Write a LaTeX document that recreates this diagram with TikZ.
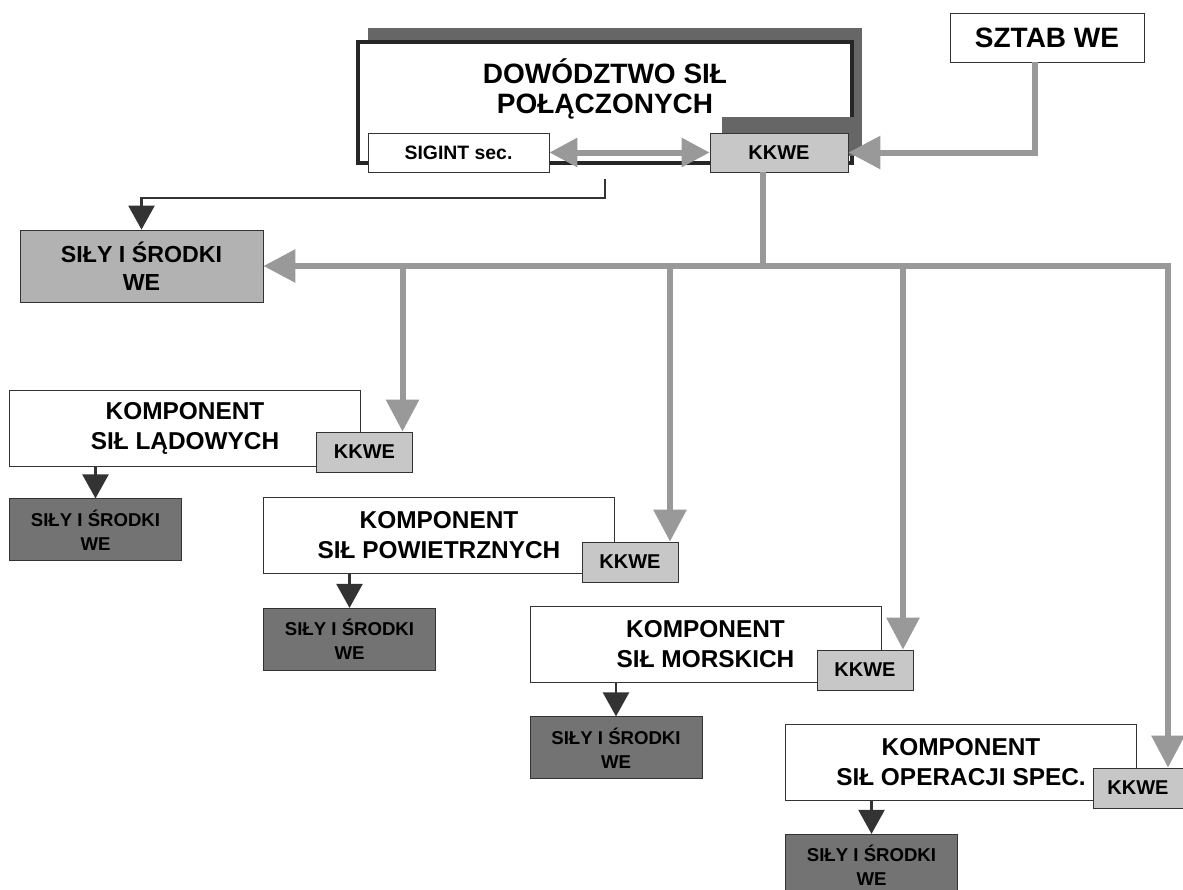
\documentclass[tikz,border=0pt]{standalone}
\usepackage{fontspec}
\setmainfont{Liberation Sans}
\usepackage{tikz}
\usetikzlibrary{arrows.meta, positioning, shadows}

\begin{document}
\begin{tikzpicture}[
  x=0.5pt, y=-0.5pt,
  box/.style={draw=black!80, fill=white, inner sep=1pt, align=center, font=\bfseries},
  hqframe/.style={draw=black!85, fill=white, line width=2pt, minimum width=247pt, minimum height=60.5pt,
    general shadow={fill=black!60, shadow xshift=5pt, shadow yshift=7pt}},
  kkwe/.style={box, fill=black!22, minimum width=48pt, minimum height=20pt, font=\bfseries\fontsize{10}{12}\selectfont},
  comp/.style={box, minimum width=175.5pt, minimum height=38pt, font=\bfseries\fontsize{12.2}{15}\selectfont},
  forces/.style={box, fill=black!55, minimum width=86pt, minimum height=31pt, font=\bfseries\fontsize{9.3}{12}\selectfont},
  grayarrow/.style={draw=black!40, line width=3pt, -{Triangle[length=16pt,width=16pt]}},
  twoway/.style={draw=black!40, line width=3pt, {Triangle[length=14pt,width=14pt]}-{Triangle[length=14pt,width=14pt]}},
  darkarrow/.style={draw=black!80, line width=1.2pt, -{Triangle[length=12pt,width=13pt]}},
]
\useasboundingbox (0,0) rectangle (1183,889);

% Command level
\node[hqframe] (dsp) at (605,102.5) {};
\node[align=center, font=\bfseries\fontsize{14}{15}\selectfont] (dsptitle) at (605,89) {DOWÓDZTWO SIŁ\\POŁĄCZONYCH};
\node[box, minimum width=90.5pt, minimum height=19.5pt, font=\bfseries\fontsize{9.7}{12}\selectfont] (sigint) at (458.5,152.5) {SIGINT sec.};
\node[kkwe, minimum width=69pt, minimum height=19.5pt,
  general shadow={fill=black!60, shadow xshift=6pt, shadow yshift=8pt}] (kkwe0) at (779,152.5) {KKWE};
\node[box, minimum width=97pt, minimum height=24.5pt, font=\bfseries\fontsize{14}{16}\selectfont] (sztab) at (1047,37.5) {SZTAB WE};
\node[box, fill=black!30, minimum width=121.5pt, minimum height=36pt, font=\bfseries\fontsize{11.6}{14}\selectfont] (sily0) at (141.5,266) {SIŁY I ŚRODKI\\WE};

% Components
\node[comp] (land) at (185,428) {KOMPONENT\\SIŁ LĄDOWYCH};
\node[kkwe] (landkk) at (364.5,452) {KKWE};
\node[forces, below=16pt of land.south west, anchor=north west] (landsily) {SIŁY I ŚRODKI\\WE};

\node[comp] (air) at (439,535.5) {KOMPONENT\\SIŁ POWIETRZNYCH};
\node[kkwe] (airkk) at (630,562) {KKWE};
\node[forces, below=17pt of air.south west, anchor=north west] (airsily) {SIŁY I ŚRODKI\\WE};

\node[comp] (nav) at (705.5,644) {KOMPONENT\\SIŁ MORSKICH};
\node[kkwe] (navkk) at (865,670) {KKWE};
\node[forces, below=17pt of nav.south west, anchor=north west] (navsily) {SIŁY I ŚRODKI\\WE};

\node[comp] (spec) at (961,762.5) {KOMPONENT\\SIŁ OPERACJI SPEC.};
\node[kkwe, minimum width=45pt] (speckk) at (1138,788) {KKWE};
\node[forces, below=16.5pt of spec.south west, anchor=north west] (specsily) {SIŁY I ŚRODKI\\WE};

% Arrows
\draw[twoway] (sigint) -- (kkwe0);
\draw[grayarrow] ([xshift=-6pt]sztab.south) |- (kkwe0.east);
\draw[darkarrow] ([yshift=-7pt]dsp.south) -- ++(0,19) -| (sily0.north);

\coordinate (bus) at (763,266);
\draw[grayarrow] (kkwe0.south -| bus) |- (sily0.east);
\draw[grayarrow] (bus) -| ([xshift=19pt]landkk.north);
\draw[grayarrow] (bus) -| ([xshift=20pt]airkk.north);
\draw[grayarrow] (bus) -| ([xshift=19pt]navkk.north);
\draw[grayarrow] (bus) -| ([xshift=15pt]speckk.north);

\draw[darkarrow] (landsily.north |- land.south) -- (landsily.north);
\draw[darkarrow] (airsily.north |- air.south) -- (airsily.north);
\draw[darkarrow] (navsily.north |- nav.south) -- (navsily.north);
\draw[darkarrow] (specsily.north |- spec.south) -- (specsily.north);
\end{tikzpicture}
\end{document}
